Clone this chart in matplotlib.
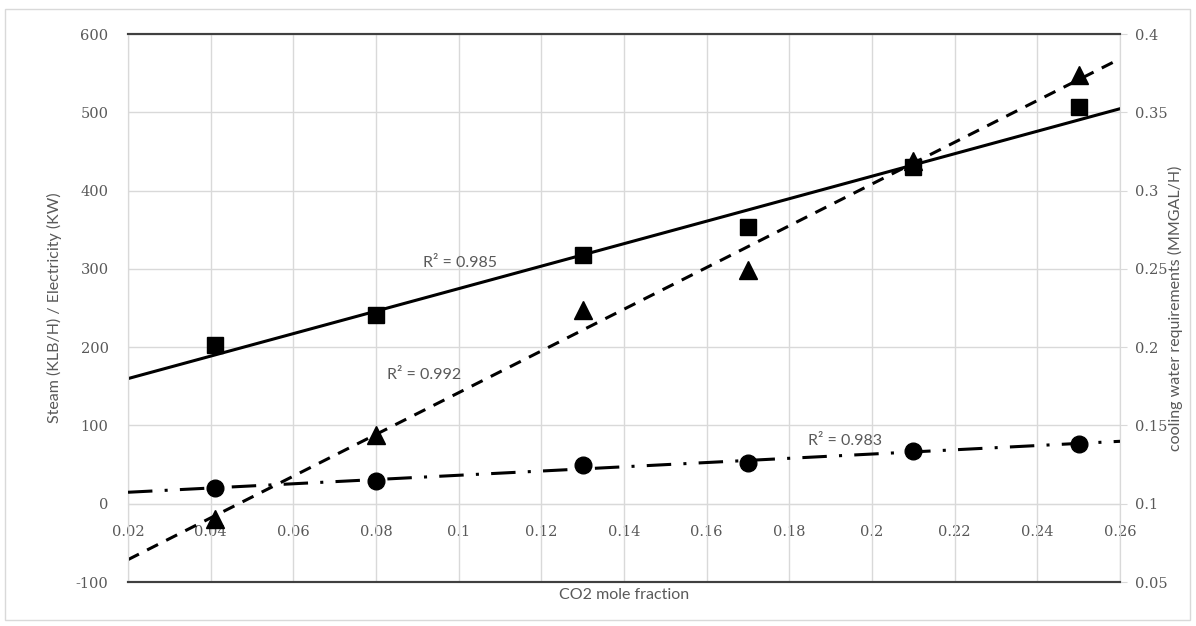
import numpy as np
import matplotlib.pyplot as plt
from matplotlib.patches import Rectangle

plt.rcParams['axes.unicode_minus'] = False

# CO2 mole fraction at each run
co2 = [0.041, 0.08, 0.13, 0.17, 0.21, 0.25]
# left axis series
steam = [203, 241, 318, 353, 430, 507]
electricity = [-19, 88, 248, 298, 438, 547]
# right axis series
cooling = [0.110, 0.1145, 0.1247, 0.126, 0.1339, 0.138]
r2_labels = ["R² = 0.985", "R² = 0.992", "R² = 0.983"]

grey = '#595959'
gridc = '#d9d9d9'
tickfont = 'DejaVu Serif'

fig = plt.figure(figsize=(11.96, 6.26), dpi=100)
ax = fig.add_axes([128 / 1196, 44 / 626, 992 / 1196, 548 / 626])
ax2 = ax.twinx()

xfit = np.array([0.02, 0.26])

# trend lines
p = np.polyfit(co2, steam, 1)
ax.plot(xfit, np.polyval(p, xfit), color='black', lw=2.2, zorder=3)
p = np.polyfit(co2, electricity, 1)
ax.plot(xfit, np.polyval(p, xfit), color='black', lw=2.2, ls=(0, (4, 3)), zorder=3)
p = np.polyfit(co2, cooling, 1)
ax2.plot(xfit, np.polyval(p, xfit), color='black', lw=2.2, ls=(0, (8, 4, 1, 4)), zorder=3)

ax.plot(co2, steam, 's', color='black', ms=12, zorder=4)
ax.plot(co2, electricity, '^', color='black', ms=13, zorder=4)
ax2.plot(co2, cooling, 'o', color='black', ms=12, zorder=4)

ax.text(0.0914, 308, r2_labels[0], color=grey, fontsize=11.5, family='Lato', ha='left', va='center')
ax.text(0.0827, 165, r2_labels[1], color=grey, fontsize=11.5, family='Lato', ha='left', va='center')
ax.text(0.1845, 80, r2_labels[2], color=grey, fontsize=11.5, family='Lato', ha='left', va='center')

ax.set_xlim(0.02, 0.26)
ax.set_ylim(-100, 600)
ax2.set_ylim(0.05, 0.4)
ax.set_xticks(np.arange(0.02, 0.261, 0.02))
ax.set_yticks(range(-100, 601, 100))
ax2.set_yticks(np.arange(0.05, 0.401, 0.05))
ax2.set_yticklabels(['0.05', '0.1', '0.15', '0.2', '0.25', '0.3', '0.35', '0.4'])

ax.grid(True, color=gridc, lw=1)
ax.set_axisbelow(True)
ax.tick_params(axis='x', bottom=False, labelbottom=False)
ax.tick_params(axis='y', length=0, pad=14, labelsize=10.5, labelcolor=grey)
for lbl in ax.get_yticklabels():
    lbl.set_family(tickfont)
ax2.tick_params(axis='y', length=5, color=gridc, pad=6, labelsize=10.5, labelcolor=grey)
for lbl in ax2.get_yticklabels():
    lbl.set_family(tickfont)

# x tick labels sit under the zero line
sec = ax.secondary_xaxis(100 / 700)
sec.set_xticks(np.arange(0.02, 0.261, 0.02))
sec.set_xticklabels(['0.02', '0.04', '0.06', '0.08', '0.1', '0.12', '0.14', '0.16',
                     '0.18', '0.2', '0.22', '0.24', '0.26'])
sec.tick_params(length=0, pad=15, labelsize=10.5, labelcolor=grey)
for lbl in sec.get_xticklabels():
    lbl.set_family(tickfont)
sec.spines['bottom'].set_color(gridc)

for a in (ax, ax2):
    a.spines['top'].set_color('#404040')
    a.spines['bottom'].set_color('#404040')
    a.spines['top'].set_linewidth(1.5)
    a.spines['bottom'].set_linewidth(1.5)
    a.spines['left'].set_color(gridc)
    a.spines['right'].set_color(gridc)

ax.set_ylabel('Steam (KLB/H) / Electricity (KW)', color=grey, fontsize=11.5, family='Lato', labelpad=10)
ax2.set_ylabel('cooling water requirements (MMGAL/H)', color=grey, fontsize=11.5, family='Lato', labelpad=0)
ax.set_xlabel('CO2 mole fraction', color=grey, fontsize=11.5, family='Lato', labelpad=4)

fig.patches.append(Rectangle((5 / 1196, 6 / 626), 1185 / 1196, 611 / 626, transform=fig.transFigure,
                             fill=False, edgecolor=gridc, lw=1))

fig.savefig('out.png', dpi=100)
